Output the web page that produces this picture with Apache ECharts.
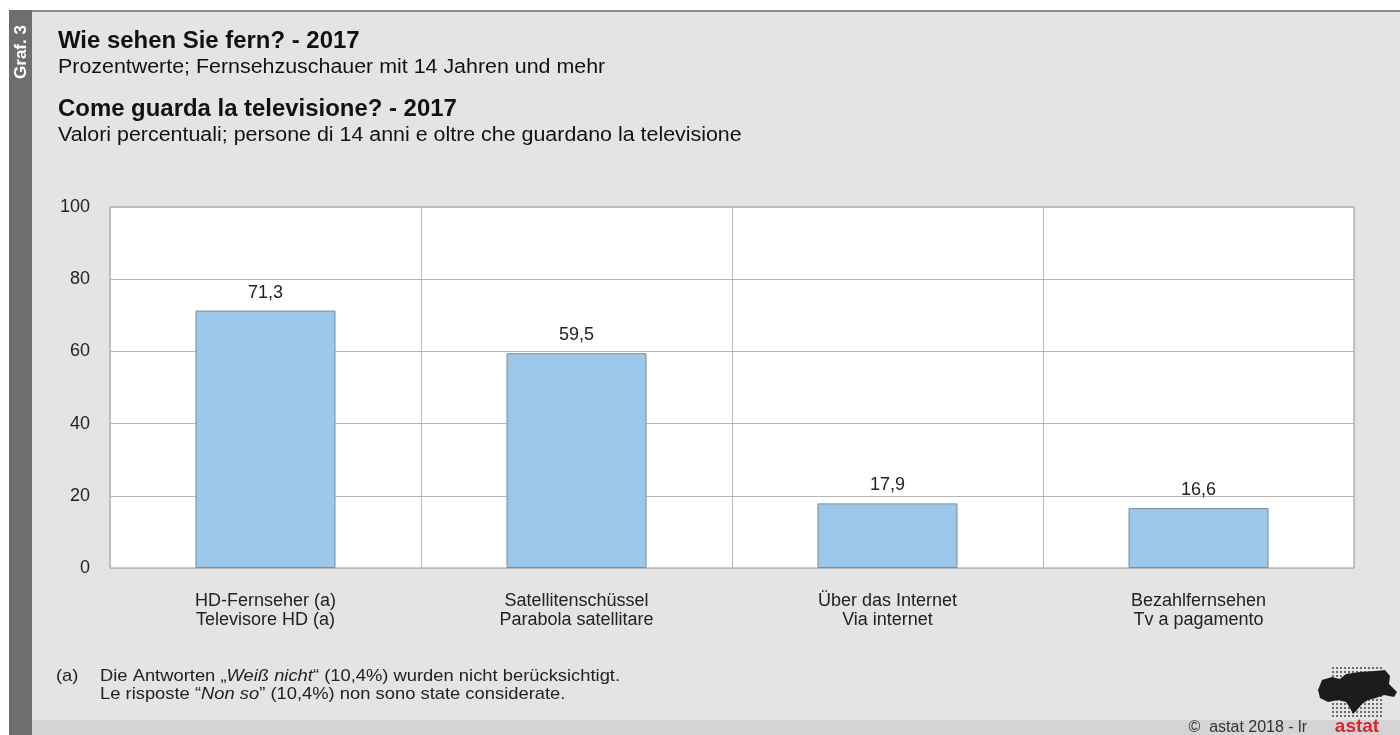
<!DOCTYPE html>
<html><head><meta charset="utf-8">
<script src="https://cdn.jsdelivr.net/npm/echarts@6/dist/echarts.min.js"></script>
<style>html,body{margin:0;padding:0;background:#fff}#c{width:1400px;height:735px}</style>
</head><body><div id="c"></div>
<script>
const categories = ["HD-Fernseher (a)\nTelevisore HD (a)", "Satellitenschüssel\nParabola satellitare", "Über das Internet\nVia internet", "Bezahlfernsehen\nTv a pagamento"];
const values = [71.3, 59.5, 17.9, 16.6];
const yTicks = [0, 20, 40, 60, 80, 100];

const FONT = '"Liberation Sans", Arial, sans-serif';
const chart = echarts.init(document.getElementById('c'), null, {renderer: 'canvas'});

// logo dots (decoration)
const dots = [];
for (let r = 0; r < 13; r++) {
  for (let c = 0; c < 13; c++) {
    dots.push({type: 'circle', shape: {cx: 1333 + c * 4, cy: 668 + r * 4, r: 1}, style: {fill: '#444'}});
  }
}
const rich = {n: {fill: '#222', font: '17px ' + FONT}, i: {fill: '#222', font: 'italic 17px ' + FONT}};

chart.setOption({
  backgroundColor: '#e4e4e4',
  animation: false,
  grid: {left: 110, right: 46, top: 207, bottom: 167, show: true, backgroundColor: '#ffffff', borderColor: '#9a9a9a', borderWidth: 1},
  xAxis: {
    type: 'category', data: categories,
    axisLine: {show: false}, axisTick: {show: false},
    splitLine: {show: true, lineStyle: {color: '#b8b8b8', width: 1}},
    axisLabel: {color: '#222', fontSize: 18, fontFamily: FONT, lineHeight: 19, margin: 24}
  },
  yAxis: {
    type: 'value', min: yTicks[0], max: yTicks[yTicks.length - 1], interval: 20,
    axisLine: {show: false}, axisTick: {show: false},
    splitLine: {lineStyle: {color: '#b8b8b8', width: 1}},
    axisLabel: {color: '#222', fontSize: 18, fontFamily: FONT, margin: 20}
  },
  series: [{
    type: 'bar', data: values, barWidth: 140,
    itemStyle: {color: '#9dc7e8', borderColor: '#7d8c9c', borderWidth: 1},
    label: {show: true, position: 'top', distance: 9, color: '#222', fontSize: 18, fontFamily: FONT,
      formatter: p => String(p.value).replace('.', ',')}
  }],
  graphic: [
    {type: 'rect', shape: {x: 0, y: 0, width: 1400, height: 10}, style: {fill: '#ffffff'}, z: 0},
    {type: 'rect', shape: {x: 0, y: 10, width: 1400, height: 2}, style: {fill: '#8a8a8a'}, z: 1},
    {type: 'rect', shape: {x: 0, y: 720, width: 1400, height: 15}, style: {fill: '#d4d4d4'}, z: 0},
    {type: 'rect', shape: {x: 0, y: 0, width: 9, height: 735}, style: {fill: '#ffffff'}, z: 2},
    {type: 'rect', shape: {x: 9, y: 10, width: 23, height: 725}, style: {fill: '#6f6e6c'}, z: 2},
    {type: 'text', x: 21, y: 52, rotation: Math.PI / 2, z: 3,
      style: {text: 'Graf. 3', fill: '#ffffff', font: 'bold 17px ' + FONT, align: 'center', verticalAlign: 'middle'}},
    {type: 'text', x: 58, y: 42, scaleX: 1.04, style: {text: 'Wie sehen Sie fern? - 2017', fill: '#111', font: 'bold 23px ' + FONT, verticalAlign: 'middle'}},
    {type: 'text', x: 58, y: 67, scaleX: 1.07, style: {text: 'Prozentwerte; Fernsehzuschauer mit 14 Jahren und mehr', fill: '#111', font: '20px ' + FONT, verticalAlign: 'middle'}},
    {type: 'text', x: 58, y: 110, scaleX: 1.04, style: {text: 'Come guarda la televisione? - 2017', fill: '#111', font: 'bold 23px ' + FONT, verticalAlign: 'middle'}},
    {type: 'text', x: 58, y: 135, scaleX: 1.07, style: {text: 'Valori percentuali; persone di 14 anni e oltre che guardano la televisione', fill: '#111', font: '20px ' + FONT, verticalAlign: 'middle'}},
    {type: 'text', x: 56, y: 676, scaleX: 1.08, style: {text: '(a)', fill: '#222', font: '17px ' + FONT, verticalAlign: 'middle'}},
    {type: 'text', x: 100, y: 676, scaleX: 1.08, style: {
      text: '{n|Die Antworten „}{i|Weiß nicht}{n|“ (10,4%) wurden nicht berücksichtigt.}',
      verticalAlign: 'middle', rich: rich}},
    {type: 'text', x: 100, y: 694, scaleX: 1.08, style: {
      text: '{n|Le risposte “}{i|Non so}{n|” (10,4%) non sono state considerate.}',
      verticalAlign: 'middle', rich: rich}},
    {type: 'text', x: 1307, y: 728, style: {text: '©  astat 2018 - lr', fill: '#333', font: '16px ' + FONT, align: 'right', verticalAlign: 'middle'}},
    {type: 'text', x: 1357, y: 727, style: {text: 'astat', fill: '#d7282f', font: 'bold 19px ' + FONT, align: 'center', verticalAlign: 'middle'}},
    {type: 'group', children: dots},
    {type: 'polygon', shape: {points: [[1318,690],[1322,680],[1332,677],[1340,679],[1346,674],[1360,672],[1375,671],[1385,670],[1390,676],[1389,684],[1397,692],[1394,697],[1384,695],[1376,698],[1368,700],[1362,704],[1357,710],[1353,714],[1350,708],[1346,702],[1338,700],[1328,702],[1320,698]]},
      style: {fill: '#1c1c1c'}}
  ]
});
</script>
</body></html>
